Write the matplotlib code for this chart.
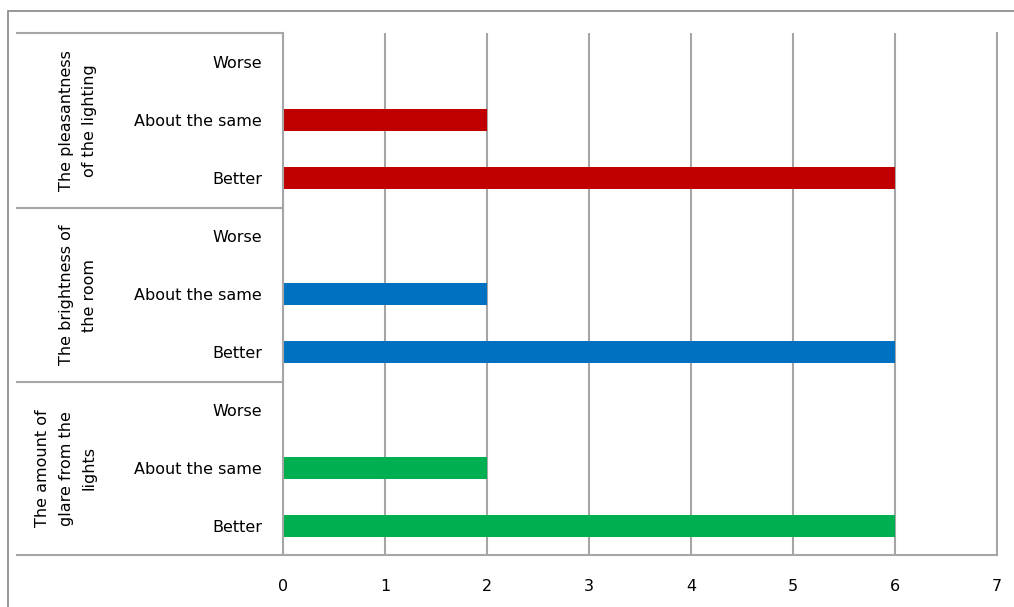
import numpy as np
import matplotlib.pyplot as plt
from matplotlib.patches import Rectangle
from matplotlib.lines import Line2D

plt.rcParams['font.family'] = ['DejaVu Sans']

groups = ['The pleasantness\nof the lighting', 'The brightness of\nthe room',
          'The amount of\nglare from the\nlights']
answers = ['Worse', 'About the same', 'Better']
pleasantness = [0, 2, 6]
brightness = [0, 2, 6]
glare = [0, 2, 6]
colors = ['#C00000', '#0070C0', '#00B050']
x_ticks = [0, 1, 2, 3, 4, 5, 6, 7]

W, H = 1014, 607
fig = plt.figure(figsize=(W / 100, H / 100), dpi=100)

def fx(px):
    return px / W

def fy(py):
    return 1 - py / H

left, right, top, bottom = 283, 997, 33, 555
ax = fig.add_axes([fx(left), fy(bottom), fx(right) - fx(left), fy(top) - fy(bottom)])

grey = '#A6A6A6'
series = [pleasantness, brightness, glare]
labels = []
pos = 0
for g, vals in enumerate(series):
    ys = np.arange(pos, pos + len(answers))
    ax.barh(ys, vals, height=0.38, color=colors[g])
    labels += answers
    pos += len(answers)

ax.set_ylim(pos - 0.5, -0.5)
ax.set_xlim(0, 7)
ax.set_xticks(x_ticks)
ax.set_yticks(np.arange(pos))
ax.set_yticklabels(labels)
ax.tick_params(axis='both', length=0, labelsize=11.5, colors='black')
ax.tick_params(axis='y', pad=15)
ax.tick_params(axis='x', pad=17)
ax.grid(axis='x', color=grey, linewidth=1.5)
ax.set_axisbelow(True)
ax.spines['top'].set_visible(False)
for side in ['left', 'right', 'bottom']:
    ax.spines[side].set_color(grey)
    ax.spines[side].set_linewidth(1.5)

# group boxes on the left
seps = [33, 208, 382, 555]
for yy in seps:
    fig.add_artist(Line2D([fx(17), fx(left)], [fy(yy), fy(yy)], color=grey, lw=1.5))
for g, name in enumerate(groups):
    yc = (seps[g] + seps[g + 1]) / 2
    fig.text(fx(97), fy(yc), name, rotation=90, ha='right', va='center',
             fontsize=11.5, multialignment='center', linespacing=1.7)

# outer chart border
fig.add_artist(Rectangle((fx(8), -0.05), 1.2, fy(11) + 0.05, fill=False,
                         edgecolor='#868686', lw=1.2, transform=fig.transFigure))

fig.savefig('out.png', dpi=100)
